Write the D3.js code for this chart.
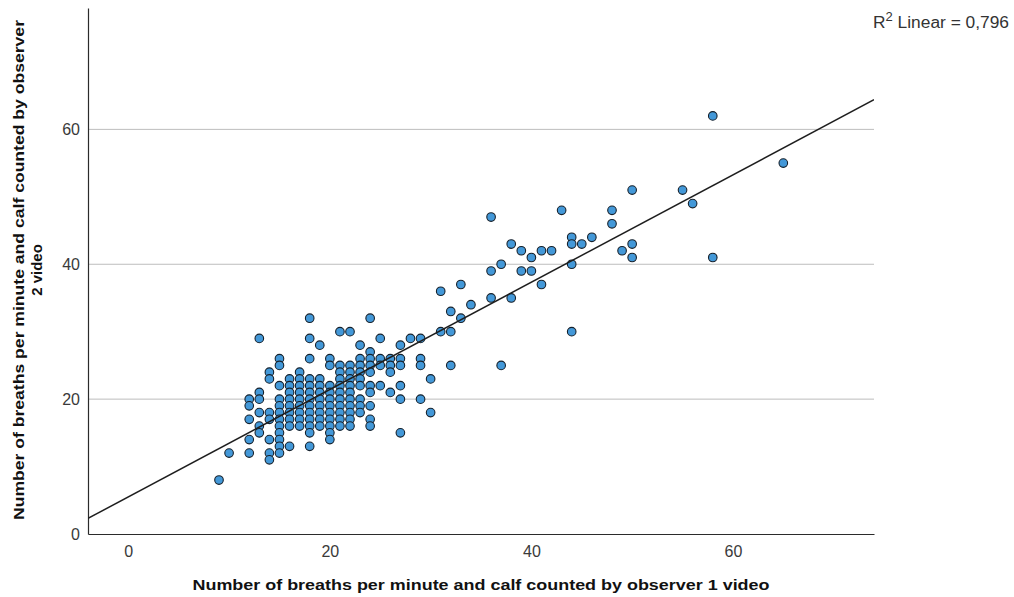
<!DOCTYPE html>
<html>
<head>
<meta charset="utf-8">
<script src="https://cdn.jsdelivr.net/npm/d3@7"></script>
<style>
  html, body { margin: 0; padding: 0; background: #fff; }
  svg { display: block; }
</style>
</head>
<body>
<svg id="chart" width="1014" height="597"></svg>
<script>
// ---- data (observer 1 value -> list of observer 2 values) ----
const obs1Values = [9, 10, 12, 13, 14, 15, 16, 17, 18, 19, 20, 21, 22, 23, 24, 25, 26, 27, 28, 29, 30,
                    31, 32, 33, 34, 36, 37, 38, 39, 40, 41, 42, 43, 44, 45, 46, 48, 49, 50, 55, 56, 58, 65];
const obs2ByObs1 = [
  [8],
  [12],
  [20, 19, 17, 14, 12],
  [29, 21, 20, 18, 16, 15],
  [24, 23, 18, 17, 14, 12, 11],
  [26, 25, 22, 20, 19, 18, 17, 16, 15, 14, 13, 12],
  [23, 22, 21, 20, 19, 18, 17, 16, 13],
  [24, 23, 22, 21, 20, 19, 18, 17, 16],
  [32, 29, 26, 23, 22, 21, 20, 19, 18, 17, 16, 15, 13],
  [28, 23, 22, 21, 20, 19, 18, 17, 16],
  [26, 25, 22, 21, 20, 19, 18, 17, 16, 15, 14],
  [30, 25, 24, 23, 22, 21, 20, 19, 18, 17, 16],
  [30, 25, 24, 23, 22, 21, 20, 19, 18, 17, 16],
  [28, 26, 25, 24, 23, 22, 20, 19, 18],
  [32, 27, 26, 25, 24, 22, 21, 19, 17, 16],
  [29, 26, 25, 22],
  [26, 25, 24, 21],
  [28, 26, 25, 22, 20, 15],
  [29],
  [29, 26, 25, 20],
  [23, 18],
  [36, 30],
  [33, 30, 25],
  [37, 32],
  [34],
  [47, 39, 35],
  [40, 25],
  [43, 35],
  [42, 39],
  [41, 39],
  [42, 37],
  [42],
  [48],
  [44, 43, 40, 30],
  [43],
  [44],
  [48, 46],
  [42],
  [51, 43, 41],
  [51],
  [49],
  [62, 41],
  [55]
];
const xTicks = [0, 20, 40, 60];
const yTicks = [0, 20, 40, 60];
const xDomain = [-4, 74];
const yDomain = [0, 78];
const fitLine = { intercept: 5.5, slope: 0.796 };
const rSquaredLabel = "0,796";
const xTitle = "Number of breaths per minute and calf counted by observer 1 video";
const yTitleLines = ["Number of breaths per minute and calf counted by observer", "2 video"];

// ---- layout ----
const W = 1014, H = 597;
const margin = { left: 88, right: 140, top: 8, bottom: 63 };
const svg = d3.select("#chart");

const x = d3.scaleLinear().domain(xDomain).range([margin.left, W - margin.right]);
const y = d3.scaleLinear().domain(yDomain).range([H - margin.bottom, margin.top]);

const points = [];
obs1Values.forEach((xv, i) => obs2ByObs1[i].forEach(yv => points.push({ x: xv, y: yv })));

// gridlines
svg.append("g")
  .selectAll("line")
  .data(yTicks.filter(d => d !== 0))
  .join("line")
  .attr("x1", x.range()[0]).attr("x2", x.range()[1])
  .attr("y1", d => y(d)).attr("y2", d => y(d))
  .attr("stroke", "#bdbdbd").attr("stroke-width", 1);

// axes
const fontTick = "'Liberation Sans', Arial, sans-serif";
const xAxis = svg.append("g")
  .attr("transform", `translate(0,${y.range()[0]})`)
  .call(d3.axisBottom(x).tickValues(xTicks).tickSize(0).tickPadding(9));
const yAxis = svg.append("g")
  .attr("transform", `translate(${x.range()[0]},0)`)
  .call(d3.axisLeft(y).tickValues(yTicks).tickSize(0).tickPadding(8));
[xAxis, yAxis].forEach(a => {
  a.select(".domain").attr("stroke", "#2b2b2b").attr("stroke-width", 1.2);
  a.selectAll("text").attr("font-family", fontTick).attr("font-size", 16).attr("fill", "#3a3a3a");
});
xAxis.selectAll("text").attr("dy", "0.85em");

// clip
svg.append("clipPath").attr("id", "plotClip")
  .append("rect")
  .attr("x", x.range()[0]).attr("y", y.range()[1])
  .attr("width", x.range()[1] - x.range()[0])
  .attr("height", y.range()[0] - y.range()[1]);

// points
svg.append("g")
  .selectAll("circle")
  .data(points)
  .join("circle")
  .attr("cx", d => x(d.x))
  .attr("cy", d => y(d.y))
  .attr("r", 4.3)
  .attr("fill", "#4398d8")
  .attr("stroke", "#15202b")
  .attr("stroke-width", 1.1);

// fit line
const lineGen = d3.line().x(d => x(d)).y(d => y(fitLine.intercept + fitLine.slope * d));
svg.append("path")
  .datum(xDomain)
  .attr("d", lineGen)
  .attr("clip-path", "url(#plotClip)")
  .attr("fill", "none")
  .attr("stroke", "#1e1e1e")
  .attr("stroke-width", 1.5);

// R^2 label
const rl = svg.append("text")
  .attr("x", 873).attr("y", 28)
  .attr("font-family", fontTick).attr("font-size", 16).attr("fill", "#333")
  .attr("textLength", 136).attr("lengthAdjust", "spacingAndGlyphs");
rl.append("tspan").text("R");
rl.append("tspan").attr("font-size", 12).attr("dy", -7).text("2");
rl.append("tspan").attr("dy", 7).text(" Linear = " + rSquaredLabel);

// axis titles
svg.append("text")
  .attr("x", 481).attr("y", 590)
  .attr("text-anchor", "middle")
  .attr("font-family", fontTick).attr("font-weight", "bold").attr("font-size", 15)
  .attr("fill", "#111")
  .attr("textLength", 577).attr("lengthAdjust", "spacingAndGlyphs")
  .text(xTitle);

const yt = svg.append("text")
  .attr("transform", "translate(0,270) rotate(-90)")
  .attr("text-anchor", "middle")
  .attr("font-family", fontTick).attr("font-weight", "bold").attr("font-size", 15)
  .attr("fill", "#111");
yt.append("tspan").attr("x", 0).attr("y", 24)
  .attr("textLength", 500).attr("lengthAdjust", "spacingAndGlyphs")
  .text(yTitleLines[0]);
yt.append("tspan").attr("x", 0).attr("y", 42).text(yTitleLines[1]);
</script>
</body>
</html>
